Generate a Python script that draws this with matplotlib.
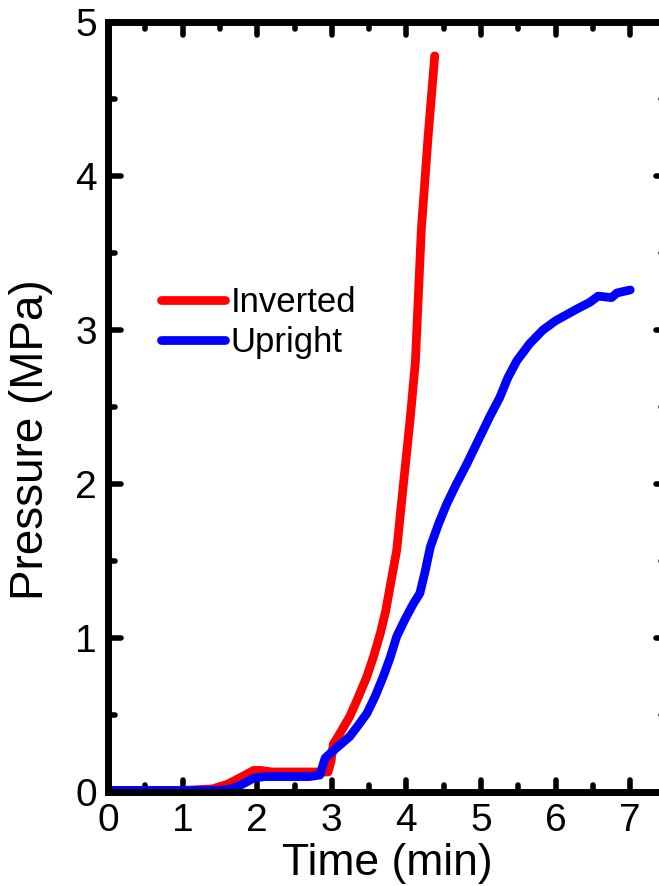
import matplotlib.pyplot as plt
from matplotlib.markers import MarkerStyle

plt.rcParams['font.family'] = ['Liberation Sans', 'DejaVu Sans']

# Inverted run
t_inv = [0, 0.5, 1.0, 1.4, 1.6, 1.8, 1.95, 2.05, 2.2, 2.5, 2.8, 2.95, 2.99, 3.02,
         3.12, 3.24, 3.35, 3.47, 3.56, 3.65, 3.72, 3.78, 3.87, 3.96, 4.05, 4.12, 4.20,
         4.29, 4.38]
p_inv = [0.01, 0.01, 0.01, 0.02, 0.05, 0.10, 0.14, 0.14, 0.13, 0.13, 0.13, 0.13, 0.20, 0.31,
         0.39, 0.49, 0.61, 0.75, 0.88, 1.03, 1.17, 1.33, 1.57, 2.00, 2.42, 2.79, 3.65,
         4.25, 4.78]

# Upright run
t_up = [0, 0.5, 1.0, 1.5, 1.65, 1.8, 1.95, 2.1, 2.4, 2.7, 2.84, 2.91, 3.0, 3.12, 3.24, 3.35,
        3.47, 3.58, 3.69, 3.78, 3.87, 3.98, 4.09, 4.18, 4.25, 4.32, 4.43, 4.54, 4.67,
        4.81, 4.92, 5.12, 5.25, 5.36, 5.48, 5.65, 5.83, 6.0, 6.15, 6.3, 6.46, 6.57,
        6.75, 6.82, 7.0]
p_up = [0.01, 0.01, 0.01, 0.01, 0.02, 0.05, 0.09, 0.10, 0.10, 0.10, 0.11, 0.22, 0.26, 0.31, 0.36,
        0.43, 0.51, 0.62, 0.75, 0.87, 1.01, 1.12, 1.22, 1.29, 1.43, 1.59, 1.74, 1.87, 2.00,
        2.13, 2.24, 2.44, 2.56, 2.69, 2.80, 2.91, 3.00, 3.06, 3.10, 3.14, 3.18, 3.22,
        3.21, 3.24, 3.26]

fig = plt.figure(figsize=(6.59, 8.86), dpi=100)
ax = fig.add_axes([0.1639, 0.1061, 0.849, 0.8691])

ax.plot(t_inv, p_inv, color='#ff0000', lw=6.3, solid_capstyle='round',
        solid_joinstyle='round', label='Inverted')
ax.plot(t_up, p_up, color='#0000ff', lw=6.3, solid_capstyle='round',
        solid_joinstyle='round', label='Upright')

ax.set_xlim(0, 7.5)
ax.set_ylim(0, 5)
ax.set_xticks(range(0, 8))
ax.set_yticks(range(0, 6))
ax.set_xticks([i + 0.5 for i in range(0, 7)], minor=True)
ax.set_yticks([i + 0.5 for i in range(0, 5)], minor=True)

for s in ax.spines.values():
    s.set_linewidth(5)
ax.tick_params(which='both', direction='in', top=True, right=True, labelsize=28)
ax.tick_params(which='major', length=9, width=4, pad=8)
ax.tick_params(which='minor', length=5, width=4)
for ln in ax.xaxis.get_ticklines(minor=False) + ax.xaxis.get_ticklines(minor=True) + \
        ax.yaxis.get_ticklines(minor=False) + ax.yaxis.get_ticklines(minor=True):
    ln.set_marker(MarkerStyle(ln.get_marker(), capstyle='round'))

ax.set_xlabel('Time (min)', fontsize=32, labelpad=3)
ax.set_ylabel('Pressure (MPa)', fontsize=33)
ax.yaxis.set_label_coords(-0.098, 0.457)

ax.legend(loc='upper left', bbox_to_anchor=(0.07, 0.675), frameon=False, fontsize=25,
          handlelength=1.85, handletextpad=0.15, labelspacing=0.2, borderaxespad=0)

fig.savefig('out.png', dpi=100)
